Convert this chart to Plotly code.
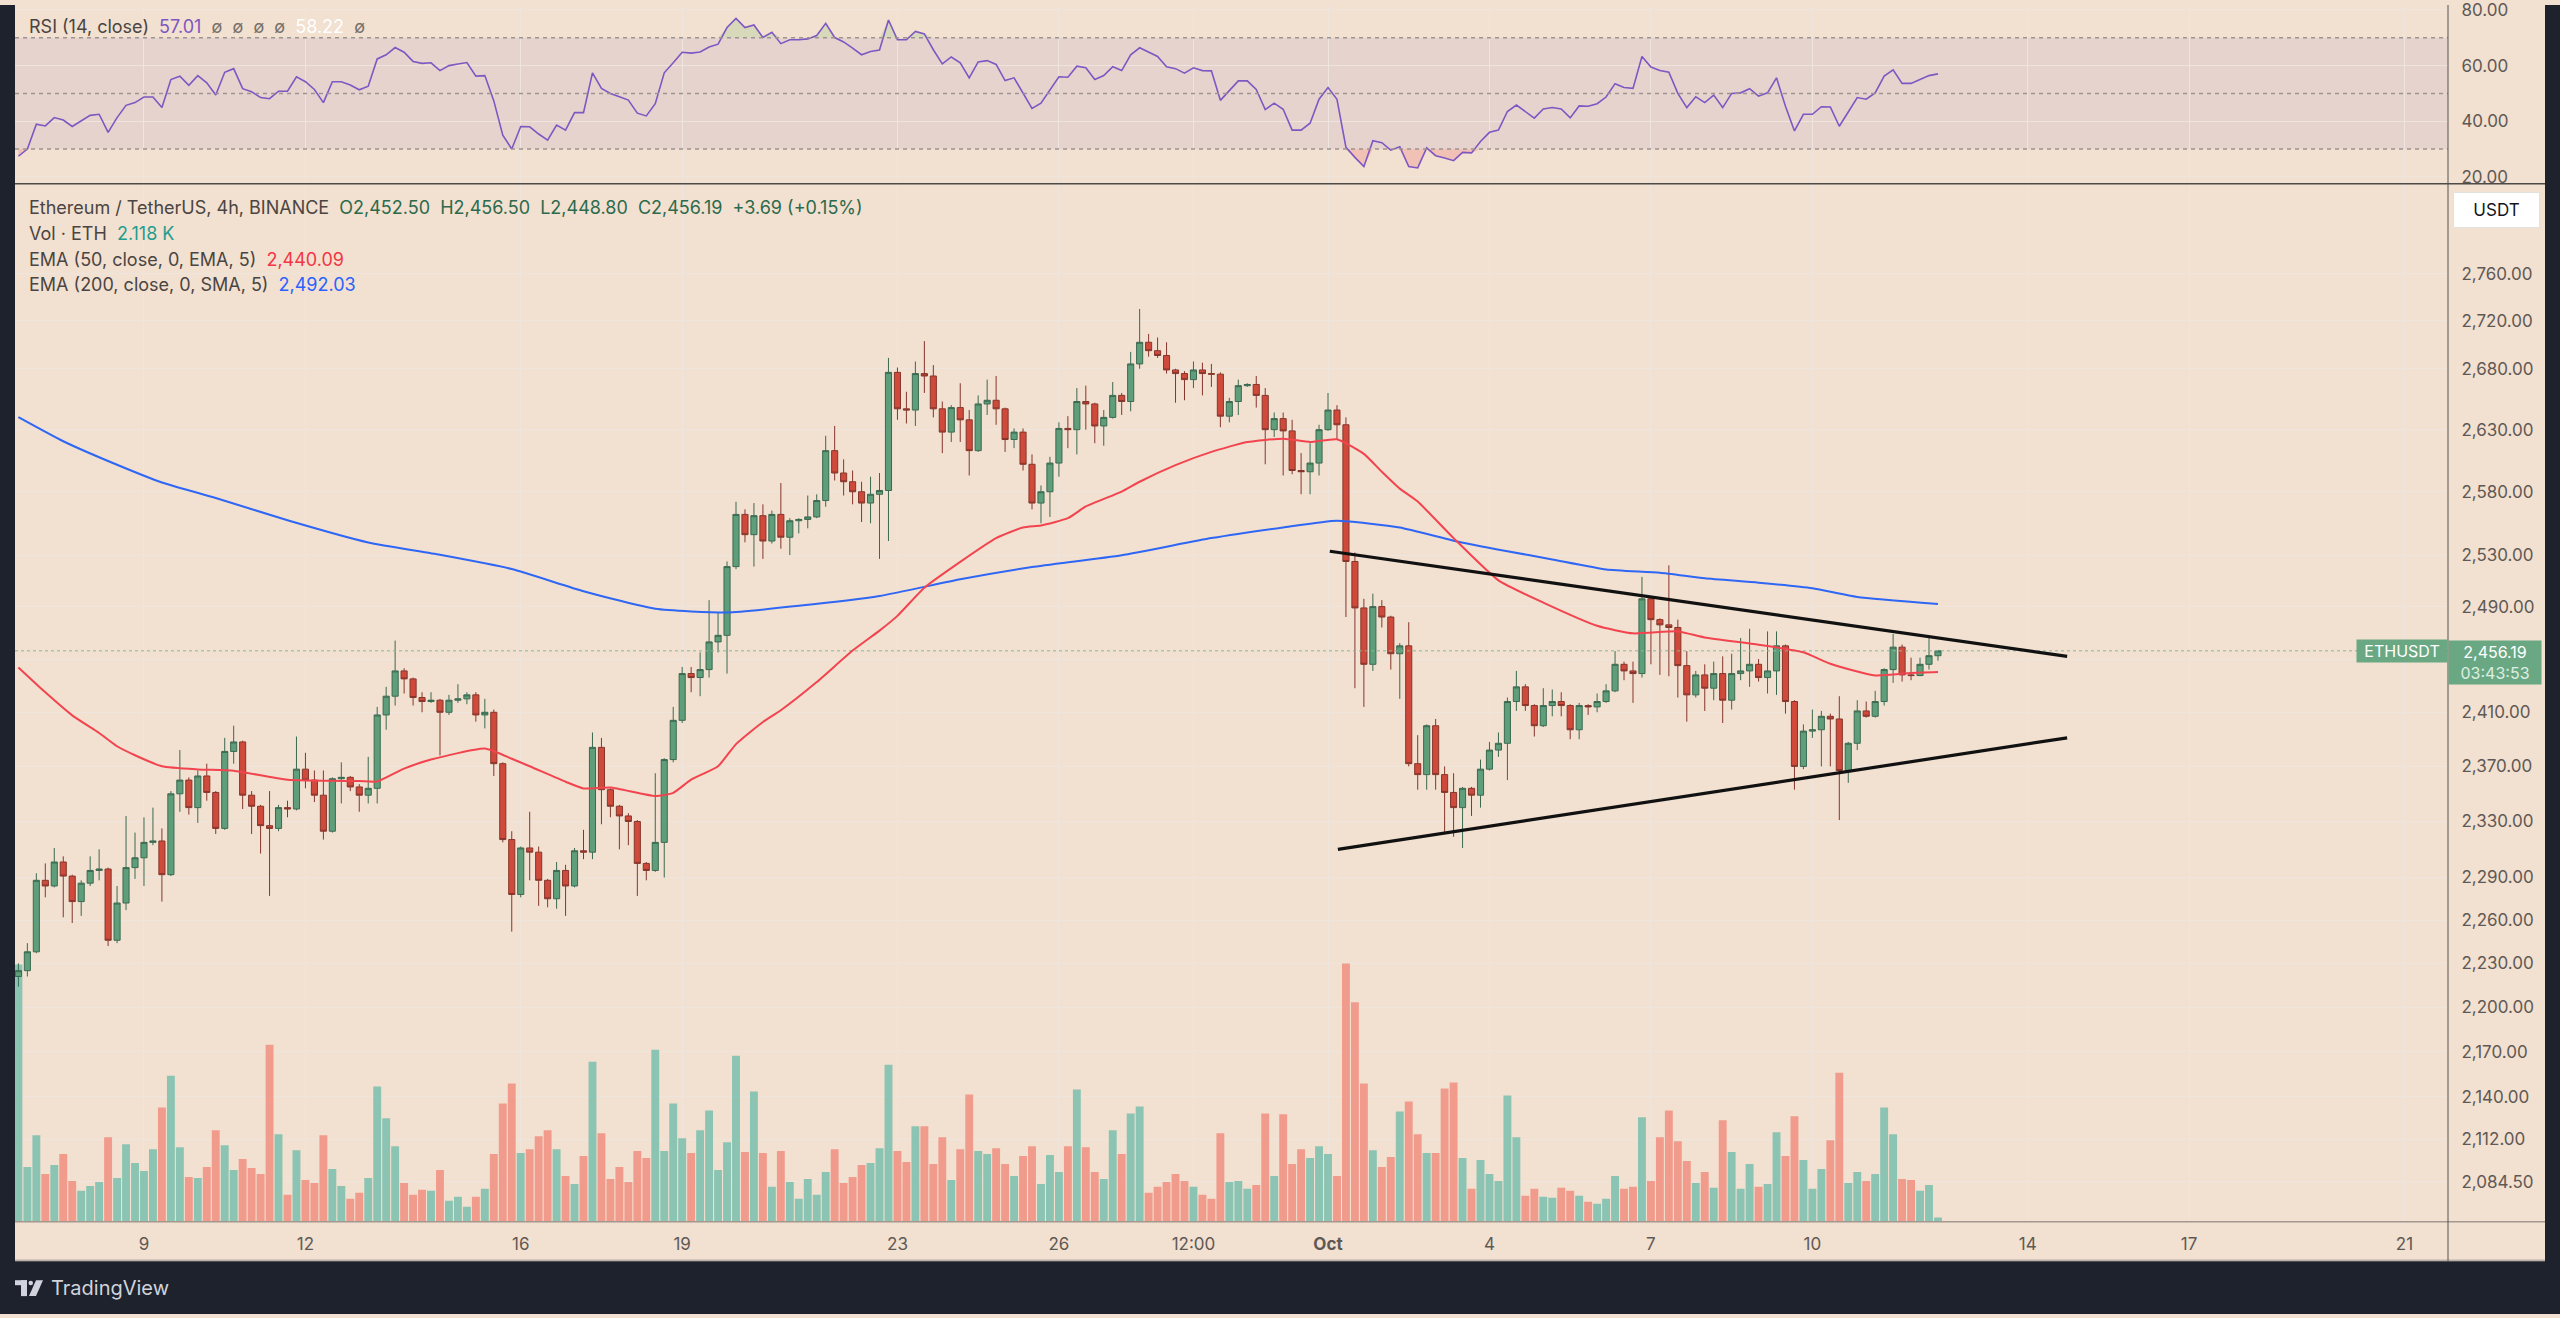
import numpy as np
import pandas as pd
import plotly.graph_objects as go

# ---------------------------------------------------------------- data
START = "2024-09-06 16:00"          # first 4h candle
open_ = [
    2221, 2225, 2238, 2288, 2284, 2301, 2291, 2273, 2286, 2295,
    2296, 2246, 2272, 2297, 2304, 2315, 2316, 2292, 2350, 2360,
    2340, 2363, 2351, 2325, 2381, 2388, 2349, 2341, 2327, 2325,
    2340, 2339, 2368, 2360, 2349, 2323, 2361, 2362, 2355, 2349,
    2354, 2408, 2422, 2441, 2435, 2421, 2418, 2419, 2410, 2419,
    2420, 2423, 2408, 2410, 2372, 2317, 2278, 2311, 2308, 2288,
    2275, 2295, 2284, 2309, 2308, 2384, 2353, 2341, 2334, 2330,
    2300, 2295, 2315, 2375, 2404, 2439, 2436, 2442, 2463, 2468,
    2521, 2562, 2546, 2561, 2541, 2562, 2544, 2557, 2558, 2560,
    2573, 2613, 2595, 2588, 2580, 2571, 2578, 2581, 2677, 2647,
    2646, 2676, 2674, 2647, 2628, 2648, 2638, 2613, 2651, 2654,
    2647, 2622, 2628, 2602, 2571, 2580, 2603, 2631, 2630, 2653,
    2651, 2633, 2640, 2658, 2653, 2684, 2702, 2695, 2691, 2679,
    2676, 2671, 2679, 2676, 2675.5, 2641, 2653, 2666, 2667, 2658,
    2630, 2639, 2629, 2597, 2596, 2603, 2630, 2646, 2634, 2525,
    2489, 2446, 2490, 2482, 2454, 2460, 2372, 2364, 2400, 2364,
    2351, 2340, 2354, 2349, 2368, 2382, 2387, 2418, 2429, 2415,
    2400, 2415, 2418, 2415, 2397, 2415, 2414, 2418, 2426, 2446,
    2441, 2439, 2496, 2480, 2476, 2474, 2445, 2423, 2438, 2428,
    2439, 2419, 2439, 2441, 2446, 2436, 2441, 2460, 2418, 2370,
    2396, 2397, 2407, 2405, 2367, 2387, 2411, 2407, 2418, 2442,
    2459, 2438, 2437.5, 2446, 2452.5,
]
high = [
    2230, 2244, 2293, 2300, 2311, 2305, 2292, 2288, 2305, 2310,
    2297, 2284, 2334, 2322, 2333, 2340, 2325, 2352, 2382, 2362,
    2367, 2372, 2352, 2391, 2400, 2389, 2352, 2342, 2352, 2342,
    2345, 2392, 2380, 2367, 2367, 2362, 2373, 2363, 2357, 2377,
    2414, 2429, 2464, 2443, 2436, 2425, 2425, 2420, 2423, 2431,
    2425, 2425, 2420, 2412, 2373, 2323, 2312, 2337, 2312, 2289,
    2301, 2299, 2311, 2324, 2395, 2391, 2354, 2342, 2336, 2331,
    2301, 2365, 2376, 2414, 2444, 2444, 2455, 2495, 2485, 2525,
    2572, 2566, 2571, 2570, 2565, 2587, 2559, 2559, 2577, 2578,
    2625, 2633, 2606, 2597, 2588, 2592, 2595, 2689, 2681, 2661,
    2686, 2703, 2683, 2653, 2650, 2668, 2646, 2658, 2671, 2674,
    2648, 2631, 2631, 2610, 2585, 2608, 2636, 2641, 2664, 2666,
    2652, 2646, 2669, 2660, 2694, 2730, 2709, 2706, 2702, 2680,
    2678, 2686, 2685, 2684, 2677, 2656, 2671, 2668, 2674, 2664,
    2644, 2644, 2638, 2611, 2619, 2634, 2660, 2650, 2640, 2532,
    2496, 2500, 2495, 2483, 2462, 2478, 2393, 2401, 2405, 2370,
    2365, 2355, 2355, 2375, 2388, 2395, 2421, 2441, 2431, 2416,
    2428, 2427, 2425, 2416, 2417, 2416, 2424, 2431, 2456, 2448,
    2448, 2513, 2498, 2481, 2522, 2480, 2456, 2441, 2446, 2448,
    2452, 2454, 2466, 2473, 2450, 2471, 2471, 2461, 2419, 2401,
    2412, 2411, 2409, 2422, 2388, 2419, 2418, 2426, 2443, 2469,
    2461, 2451, 2451, 2467, 2456.5,
]
low = [
    2214, 2221, 2237, 2276, 2283, 2262, 2258, 2263, 2284, 2288,
    2242, 2244, 2267, 2289, 2284, 2313, 2273, 2291, 2337, 2335,
    2329, 2345, 2321, 2324, 2372, 2339, 2321, 2307, 2277, 2323,
    2333, 2338, 2354, 2344, 2317, 2322, 2343, 2352, 2337, 2343,
    2343, 2397, 2415, 2424, 2415, 2410, 2417, 2378, 2408, 2417,
    2416, 2403, 2398, 2363, 2315, 2252, 2276, 2288, 2270, 2269,
    2268, 2263, 2283, 2303, 2303, 2328, 2333, 2310, 2313, 2277,
    2288, 2294, 2290, 2373, 2402, 2425, 2422, 2436, 2455, 2439,
    2519, 2540, 2521, 2527, 2539, 2535, 2530, 2547, 2551, 2559,
    2568, 2589, 2577, 2570, 2556, 2555, 2527, 2541, 2638, 2635,
    2633, 2660, 2640, 2611, 2620, 2620, 2593, 2612, 2642, 2634,
    2612, 2615, 2597, 2566, 2555, 2560, 2592, 2615, 2610, 2630,
    2619, 2617, 2639, 2642, 2645, 2680, 2690, 2689, 2676, 2652,
    2654, 2664, 2658, 2665, 2632, 2636, 2642, 2665, 2648, 2602,
    2624, 2593, 2594, 2578, 2578, 2593, 2629, 2622, 2482, 2428,
    2414, 2441, 2474, 2442, 2420, 2370, 2353, 2353, 2353, 2321,
    2319, 2311, 2334, 2340, 2367, 2377, 2360, 2411, 2411, 2392,
    2399, 2407, 2407, 2390, 2390, 2408, 2410, 2417, 2425, 2434,
    2417, 2436, 2446, 2438, 2437, 2421, 2403, 2421, 2411, 2419,
    2402, 2412, 2434, 2429, 2433, 2424, 2423, 2409, 2353, 2368,
    2391, 2370, 2370, 2331, 2358, 2382, 2406, 2406, 2415, 2432,
    2433, 2434, 2437, 2442, 2448.8,
]
close = [
    2225, 2238, 2288, 2284, 2301, 2291, 2273, 2286, 2295, 2296,
    2246, 2272, 2297, 2304, 2315, 2316, 2292, 2350, 2360, 2340,
    2363, 2351, 2325, 2381, 2388, 2349, 2341, 2327, 2325, 2340,
    2339, 2368, 2360, 2349, 2323, 2361, 2362, 2355, 2349, 2354,
    2408, 2422, 2441, 2435, 2421, 2418, 2419, 2410, 2419, 2420,
    2423, 2408, 2410, 2372, 2317, 2278, 2311, 2308, 2288, 2275,
    2295, 2284, 2309, 2308, 2384, 2353, 2341, 2334, 2330, 2300,
    2295, 2315, 2375, 2404, 2439, 2436, 2442, 2463, 2468, 2521,
    2562, 2546, 2561, 2541, 2562, 2544, 2557, 2558, 2560, 2573,
    2613, 2595, 2588, 2580, 2571, 2578, 2581, 2677, 2647, 2646,
    2676, 2674, 2647, 2628, 2648, 2638, 2613, 2651, 2654, 2647,
    2622, 2628, 2602, 2571, 2580, 2603, 2631, 2630, 2653, 2651,
    2633, 2640, 2658, 2653, 2684, 2702, 2695, 2691, 2679, 2676,
    2671, 2679, 2676, 2675.5, 2641, 2653, 2666, 2667, 2658, 2630,
    2639, 2629, 2597, 2596, 2603, 2630, 2646, 2634, 2525, 2489,
    2446, 2490, 2482, 2454, 2460, 2372, 2364, 2400, 2364, 2351,
    2340, 2354, 2349, 2368, 2382, 2387, 2418, 2429, 2415, 2400,
    2415, 2418, 2415, 2397, 2415, 2414, 2418, 2426, 2446, 2441,
    2439, 2496, 2480, 2476, 2474, 2445, 2423, 2438, 2428, 2439,
    2419, 2439, 2441, 2446, 2436, 2441, 2460, 2418, 2370, 2396,
    2397, 2407, 2405, 2367, 2387, 2411, 2407, 2418, 2442, 2459,
    2438, 2437.5, 2446, 2452.5, 2456.19,
]
volume_k = [
    129.5, 27.5, 43.5, 24, 28.5, 34, 20.5, 15.5, 18, 20,
    42.5, 22, 39, 29.5, 25.5, 36.5, 57.5, 73.5, 37.5, 22.5,
    22, 27.5, 46, 38.5, 26, 31.5, 27, 24, 89, 44,
    13.5, 36, 21, 19.5, 43.5, 26.5, 18, 11.5, 14.5, 22,
    68, 52, 38, 19.5, 13.5, 16, 15.5, 26, 10.5, 12.5,
    7.5, 12.5, 16.5, 34, 59.5, 69.5, 34.5, 36.5, 43, 46,
    36.5, 23, 19, 33, 80.5, 44.5, 21.5, 27.5, 20, 35.5,
    32, 86.5, 35.5, 59.5, 42, 34.5, 46, 56, 26, 40,
    83.5, 35, 65.5, 34.5, 17.5, 35.5, 20, 11.5, 21.5, 13.5,
    25, 36.5, 19.5, 22.5, 28.5, 29.5, 37, 79, 35.5, 30,
    48, 48, 29, 42.5, 21, 36.5, 64, 35.5, 34, 37,
    29, 23, 33, 38, 19, 33.5, 25, 38, 66.5, 37.5,
    25, 21.5, 46, 34, 54.5, 58, 14.5, 17.5, 20, 24,
    20.5, 17.5, 13.5, 11.5, 44.5, 20, 20.5, 16.5, 18.5, 54.5,
    23, 54, 29, 36.5, 32, 38, 34, 23, 130, 110.5,
    69.5, 36, 27.5, 32.5, 55.5, 60.5, 44, 34.5, 34.5, 67,
    70, 32, 16.5, 31, 24, 20.5, 63.5, 42.5, 13, 16.5,
    12.5, 12, 17, 15.5, 13, 10, 9, 11.5, 23, 16.5,
    17.5, 52.5, 20.5, 42.5, 56, 40.5, 30.5, 19.5, 25, 17,
    51, 35, 16.5, 29, 17.5, 19, 45, 33, 53, 31,
    16.5, 26.5, 41, 75, 19.5, 25, 20.5, 24, 57.5, 44,
    21.5, 21, 15.5, 18.5, 2.118,
]
rsi = [
    27.4, 30.0, 38.9, 38.3, 41.3, 40.4, 38.1, 40.1, 42.1, 42.5,
    36.0, 41.3, 45.7, 46.7, 48.7, 48.7, 44.9, 55.0, 56.2, 52.9,
    56.4, 53.8, 49.4, 57.6, 58.9, 51.7, 50.6, 48.5, 48.1, 50.8,
    50.8, 56.0, 54.2, 51.4, 46.7, 54.2, 54.2, 53.0, 51.3, 52.6,
    62.4, 63.9, 66.5, 64.8, 61.5, 60.8, 61.0, 58.2, 60.0, 60.6,
    61.1, 56.2, 56.4, 47.3, 35.0, 30.0, 38.1, 38.0, 35.4, 33.2,
    38.6, 36.8, 43.1, 43.1, 57.4, 51.8, 50.0, 48.8, 47.6, 42.9,
    41.9, 46.3, 57.4, 61.0, 64.8, 64.5, 64.9, 66.7, 67.7, 73.7,
    77.0, 73.7, 74.6, 70.1, 72.0, 67.9, 69.3, 69.3, 69.6, 70.8,
    75.2, 70.1, 68.5, 66.3, 63.9, 65.1, 65.6, 76.4, 69.3, 69.3,
    72.3, 71.4, 65.7, 60.6, 63.1, 61.0, 55.6, 61.3, 61.8, 60.4,
    54.6, 55.6, 50.2, 44.6, 46.5, 51.4, 56.0, 55.8, 59.8, 59.2,
    55.0, 56.4, 59.6, 58.2, 63.9, 66.4, 64.8, 63.3, 59.6, 58.9,
    57.3, 59.2, 58.2, 58.1, 47.5, 51.1, 54.5, 54.5, 51.4, 44.2,
    46.5, 44.3, 36.8, 36.8, 39.3, 47.9, 52.1, 47.9, 30.6, 27.0,
    23.7, 33.0, 32.3, 29.6, 30.8, 23.7, 23.2, 30.4, 27.6, 26.8,
    25.8, 28.8, 28.6, 32.7, 36.0, 36.8, 43.5, 45.8, 43.5, 41.1,
    44.4, 44.9, 44.4, 41.2, 45.5, 45.4, 46.3, 48.7, 53.5, 52.1,
    51.8, 63.3, 59.5, 58.2, 57.6, 50.0, 44.9, 48.8, 46.7, 49.4,
    44.9, 50.0, 50.2, 51.7, 49.0, 50.2, 55.6, 45.4, 36.5, 42.5,
    42.5, 45.2, 45.1, 38.2, 43.3, 48.5, 47.9, 50.2, 56.2, 58.5,
    53.6, 53.6, 55.0, 56.4, 57.01,
]
# EMA lines, read at selected candle indices
ema50_idx = [0, 3, 6, 9, 11, 13, 16, 20, 24, 30, 38, 40, 43, 46, 52, 55, 57, 61, 63, 66,
             71, 73, 75, 78, 80, 83, 85, 89, 93, 96, 98, 101, 105, 109, 112, 114, 117, 119,
             123, 125, 129, 133, 137, 141, 144, 147, 150, 152, 154, 156, 160, 165, 170, 176,
             180, 185, 188, 194, 199, 202, 207, 211, 214]
ema50_val = [2443.6, 2424.9, 2407.7, 2394.6, 2384.8, 2378.2, 2370.1, 2367.8, 2366.8, 2360.3,
             2359.3, 2359.0, 2368.4, 2375.0, 2383.1, 2375.6, 2370.1, 2358.8, 2353.9, 2354.6,
             2348.4, 2350.7, 2360.3, 2370.1, 2386.4, 2402.8, 2411.5, 2432.6, 2456.4, 2471.6,
             2482.9, 2504.6, 2524.7, 2543.3, 2551.7, 2553.3, 2559.0, 2568.3, 2580.1, 2588.0,
             2601.3, 2612.0, 2620.0, 2622.7, 2620.0, 2622.2, 2610.4, 2596.0, 2582.5, 2572.2,
             2543.3, 2510.3, 2493.1, 2475.3, 2469.5, 2471.0, 2466.4, 2460.9, 2455.1, 2446.4,
             2437.6, 2439.4, 2440.09]
ema200_idx = [0, 5, 11, 16, 22, 30, 39, 47, 55, 63, 71, 79, 87, 96, 105, 113, 123, 133, 141,
              147, 154, 160, 166, 171, 177, 183, 188, 194, 200, 205, 214]
ema200_val = [2640.2, 2620.6, 2601.6, 2587.4, 2575.0, 2557.4, 2539.9, 2530.2, 2519.1, 2501.9,
              2488.3, 2485.5, 2490.6, 2498.2, 2511.1, 2520.6, 2529.9, 2543.3, 2551.7, 2557.0,
              2551.7, 2541.3, 2533.0, 2526.6, 2518.8, 2516.2, 2511.9, 2508.5, 2504.2, 2497.5,
              2492.03]
# triangle trend lines (candle index, price)
trend_upper_idx = [146.2, 228.4]
trend_upper_val = [2533, 2452]
trend_lower_idx = [147.1, 228.4]
trend_lower_val = [2310, 2391]

price_ticks = [2084.5, 2112, 2140, 2170, 2200, 2230, 2260, 2290, 2330, 2370, 2410, 2450,
               2490, 2530, 2580, 2630, 2680, 2720, 2760]
hidden_price_ticks = [2450]          # label covered by the last-price tag
rsi_ticks = [20, 40, 60, 80]
date_tick_times = ["2024-09-09", "2024-09-12", "2024-09-16", "2024-09-19", "2024-09-23",
                   "2024-09-26", "2024-09-28 12:00", "2024-10-01", "2024-10-04", "2024-10-07",
                   "2024-10-10", "2024-10-14", "2024-10-17", "2024-10-21"]
date_tick_labels = ["9", "12", "16", "19", "23", "26", "12:00", "Oct", "4", "7", "10", "14",
                    "17", "21"]

n = len(close)
assert len(open_) == n and len(high) == n and len(low) == n
assert len(volume_k) == n and len(rsi) == n
assert len(ema50_idx) == len(ema50_val) and len(ema200_idx) == len(ema200_val)

# ---------------------------------------------------------------- layout constants
W, H = 2560, 1318
BG = "#f2e0d0"
GRID = "#eee5df"
DARK = "#1e222d"
TXT = "#4a4542"
AXT = "#5f5955"
FONT = "Inter, Roboto, sans-serif"
PL, PR = 15, 2448          # plot area left / right (px)
RSI_BOTTOM = 179
PRICE_TOP, PRICE_BOTTOM = 180, 1225
FOOT_TOP = 1265


def px(x):
    return x / W


def py(y):
    return 1 - y / H


t_start = pd.Timestamp(START)
times = pd.date_range(START, periods=n, freq="4h")


def idx_time(i):
    return t_start + pd.Timedelta(hours=4 * i)


x_left = idx_time(-0.379)
x_right = idx_time(270.86)

o = np.array(open_, float)
c = np.array(close, float)
up = c >= o
vol_colors = np.where(up, "#8cc4b3", "#f19b8d")

fig = go.Figure()

# volume (behind)
fig.add_trace(go.Bar(x=times, y=volume_k, marker=dict(color=vol_colors, line=dict(width=0)),
                     xaxis="x", yaxis="y", hoverinfo="skip", showlegend=False))

# last-price dotted line
fig.add_trace(go.Scatter(x=[x_left, x_right], y=[close[-1], close[-1]], mode="lines",
                         line=dict(color="#86b899", width=1, dash="dot"),
                         xaxis="x", yaxis="y2", hoverinfo="skip", showlegend=False))

# candles
fig.add_trace(go.Candlestick(
    x=times, open=open_, high=high, low=low, close=close, xaxis="x", yaxis="y2",
    increasing=dict(fillcolor="#5f9e7b", line=dict(color="#3b6a51", width=1)),
    decreasing=dict(fillcolor="#d04a3b", line=dict(color="#86362c", width=1)),
    whiskerwidth=0, hoverinfo="skip", showlegend=False))

# EMAs
fig.add_trace(go.Scatter(x=[idx_time(i) for i in ema200_idx], y=ema200_val, mode="lines",
                         line=dict(color="#2e66f5", width=2, shape="spline", smoothing=0.5),
                         xaxis="x", yaxis="y2", hoverinfo="skip", showlegend=False))
fig.add_trace(go.Scatter(x=[idx_time(i) for i in ema50_idx], y=ema50_val, mode="lines",
                         line=dict(color="#f2444f", width=2, shape="spline", smoothing=0.5),
                         xaxis="x", yaxis="y2", hoverinfo="skip", showlegend=False))

# trend lines
for ti, tv in ((trend_upper_idx, trend_upper_val), (trend_lower_idx, trend_lower_val)):
    fig.add_trace(go.Scatter(x=[idx_time(i) for i in ti], y=tv, mode="lines",
                             line=dict(color="#111111", width=3.2),
                             xaxis="x", yaxis="y2", hoverinfo="skip", showlegend=False))

# RSI fills (overbought / oversold) and line
r = np.array(rsi, float)
fig.add_trace(go.Scatter(x=times, y=[70] * n, mode="lines", line=dict(width=0),
                         xaxis="x", yaxis="y3", hoverinfo="skip", showlegend=False))
fig.add_trace(go.Scatter(x=times, y=np.maximum(r, 70), mode="lines", line=dict(width=0),
                         fill="tonexty", fillcolor="rgba(120,190,110,0.22)",
                         xaxis="x", yaxis="y3", hoverinfo="skip", showlegend=False))
fig.add_trace(go.Scatter(x=times, y=[30] * n, mode="lines", line=dict(width=0),
                         xaxis="x", yaxis="y3", hoverinfo="skip", showlegend=False))
fig.add_trace(go.Scatter(x=times, y=np.minimum(r, 30), mode="lines", line=dict(width=0),
                         fill="tonexty", fillcolor="rgba(242,80,90,0.22)",
                         xaxis="x", yaxis="y3", hoverinfo="skip", showlegend=False))
fig.add_trace(go.Scatter(x=times, y=rsi, mode="lines", line=dict(color="#7e57c2", width=1.6),
                         xaxis="x", yaxis="y3", hoverinfo="skip", showlegend=False))

axis_font = dict(family=FONT, size=17, color=AXT)

fig.update_layout(
    width=W, height=H, autosize=False,
    margin=dict(l=0, r=0, t=0, b=0, pad=0),
    paper_bgcolor=BG, plot_bgcolor=BG,
    showlegend=False, bargap=0.12, boxgap=0.2, boxgroupgap=0.15,
    hovermode=False,
    xaxis=dict(type="date", domain=[px(PL), px(PR)], range=[x_left, x_right], anchor="y",
               tickvals=date_tick_times,
               ticktext=[("<b>%s</b>" % t if t == "Oct" else t) for t in date_tick_labels],
               tickfont=axis_font, showgrid=True, gridcolor=GRID, gridwidth=1,
               ticks="outside", ticklen=7, tickcolor="rgba(0,0,0,0)",
               zeroline=False, showline=False, rangeslider=dict(visible=False),
               fixedrange=True),
    yaxis=dict(domain=[py(PRICE_BOTTOM), py(PRICE_TOP)], range=[0, 522.5], visible=False,
               fixedrange=True),
    yaxis2=dict(type="log", overlaying="y", side="right", anchor="x",
                range=[np.log10(2058.9), np.log10(2837.7)],
                tickvals=price_ticks,
                ticktext=[("" if v in hidden_price_ticks else f"{v:,.2f}") for v in price_ticks],
                tickfont=axis_font, showgrid=True, gridcolor=GRID, gridwidth=1,
                ticks="outside", ticklen=9, tickcolor="rgba(0,0,0,0)",
                zeroline=False, showline=False, fixedrange=True),
    yaxis3=dict(domain=[py(RSI_BOTTOM), 1], range=[17.86, 81.79], side="right", anchor="x",
                tickvals=rsi_ticks, ticktext=[f"{v:.2f}" for v in rsi_ticks],
                tickfont=axis_font, showgrid=True, gridcolor=GRID, gridwidth=1,
                ticks="outside", ticklen=9, tickcolor="rgba(0,0,0,0)",
                ticklabeloverflow="allow",
                zeroline=False, showline=False, fixedrange=True),
)

shapes = []
# RSI band and levels
shapes.append(dict(type="rect", xref="x domain", yref="y3", x0=0, x1=1, y0=30, y1=70,
                   fillcolor="rgba(126,87,194,0.09)", line=dict(width=0), layer="below"))
for lvl in (70, 50, 30):
    shapes.append(dict(type="line", xref="x domain", yref="y3", x0=0, x1=1, y0=lvl, y1=lvl,
                       line=dict(color="#9c9490", width=1.5, dash="4px,4px"), layer="above"))
# frame
shapes += [
    dict(type="rect", xref="paper", yref="paper", x0=0, x1=px(PL), y0=0, y1=1,
         fillcolor=DARK, line=dict(width=0), layer="above"),
    dict(type="rect", xref="paper", yref="paper", x0=px(2545), x1=1, y0=0, y1=1,
         fillcolor=DARK, line=dict(width=0), layer="above"),
    dict(type="rect", xref="paper", yref="paper", x0=0, x1=1, y0=0, y1=py(FOOT_TOP),
         fillcolor=DARK, line=dict(width=0), layer="above"),
    # pane separator
    dict(type="line", xref="paper", yref="paper", x0=px(PL), x1=px(2545),
         y0=py(180), y1=py(180), line=dict(color="#4e4a48", width=1.5), layer="above"),
    # price pane bottom
    dict(type="line", xref="paper", yref="paper", x0=px(PL), x1=px(2545),
         y0=py(1225), y1=py(1225), line=dict(color="#a39890", width=1.5), layer="above"),
    dict(type="line", xref="paper", yref="paper", x0=px(PL), x1=px(2545),
         y0=py(FOOT_TOP - 1), y1=py(FOOT_TOP - 1), line=dict(color="#b9b0aa", width=1.5),
         layer="above"),
    # price axis separator
    dict(type="line", xref="paper", yref="paper", x0=px(PR), x1=px(PR),
         y0=py(FOOT_TOP), y1=1, line=dict(color="#57524f", width=1), layer="above"),
]
# TradingView logo glyph
LOGO = "#d1d4dc"
shapes += [
    dict(type="rect", xref="paper", yref="paper", x0=px(15), x1=px(27), y0=py(1289),
         y1=py(1284), fillcolor=LOGO, line=dict(width=0), layer="above"),
    dict(type="rect", xref="paper", yref="paper", x0=px(21), x1=px(27), y0=py(1300),
         y1=py(1284), fillcolor=LOGO, line=dict(width=0), layer="above"),
    dict(type="circle", xref="paper", yref="paper", x0=px(28.5), x1=px(33), y0=py(1289),
         y1=py(1284.5), fillcolor=LOGO, line=dict(width=0), layer="above"),
    dict(type="path", xref="paper", yref="paper",
         path=f"M {px(36)},{py(1284)} L {px(43)},{py(1284)} L {px(36)},{py(1300)} "
              f"L {px(29)},{py(1300)} Z",
         fillcolor=LOGO, line=dict(width=0), layer="above"),
]
fig.update_layout(shapes=shapes)

# ---------------------------------------------------------------- texts
ann = []
lf = dict(family=FONT, size=18, color=TXT)
sp = "&nbsp;&nbsp;"
grey_o = '<span style="color:#77706b">ø</span>'
ann.append(dict(xref="paper", yref="paper", x=px(27), y=py(22), xanchor="left",
                yanchor="middle", showarrow=False, font=lf,
                text=("RSI (14, close)" + sp + f'<span style="color:#7e57c2">{rsi[-1]:.2f}</span>'
                      + sp + (sp.join([grey_o] * 4)) + sp
                      + '<span style="color:#ffffff">58.22</span>' + sp + grey_o)))
ohlc_txt = (f"O{open_[-1]:,.2f}{sp}H{high[-1]:,.2f}{sp}L{low[-1]:,.2f}{sp}C{close[-1]:,.2f}"
            f"{sp}{close[-1] - close[-2]:+.2f} ({(close[-1] - close[-2]) / close[-2] * 100:+.2f}%)")
ann.append(dict(xref="paper", yref="paper", x=px(27), y=py(204), xanchor="left",
                yanchor="middle", showarrow=False, font=lf,
                text="Ethereum / TetherUS, 4h, BINANCE" + sp +
                     f'<span style="color:#2c6a4d">{ohlc_txt}</span>'))
ann.append(dict(xref="paper", yref="paper", x=px(27), y=py(230), xanchor="left",
                yanchor="middle", showarrow=False, font=lf,
                text="Vol · ETH" + sp + f'<span style="color:#1f9e8f">{volume_k[-1]:.3f} K</span>'))
ann.append(dict(xref="paper", yref="paper", x=px(27), y=py(256), xanchor="left",
                yanchor="middle", showarrow=False, font=lf,
                text="EMA (50, close, 0, EMA, 5)" + sp +
                     f'<span style="color:#f23645">{ema50_val[-1]:,.2f}</span>'))
ann.append(dict(xref="paper", yref="paper", x=px(27), y=py(281), xanchor="left",
                yanchor="middle", showarrow=False, font=lf,
                text="EMA (200, close, 0, SMA, 5)" + sp +
                     f'<span style="color:#2962ff">{ema200_val[-1]:,.2f}</span>'))
# USDT button
ann.append(dict(xref="paper", yref="paper", x=px(2496.5), y=py(206), xanchor="center",
                yanchor="middle", showarrow=False, text="USDT",
                font=dict(family=FONT, size=17, color="#131722"),
                bgcolor="#ffffff", bordercolor="#e4e0dc", borderwidth=1, borderpad=0,
                width=85, height=34))
# last price labels
GREEN_LBL = "#6aa884"
ylog = np.log10(close[-1])
ann.append(dict(xref="paper", yref="y2", x=px(PR), y=ylog, xanchor="right", yanchor="middle",
                showarrow=False, text="ETHUSDT", font=dict(family=FONT, size=16, color="#ffffff"),
                bgcolor=GREEN_LBL, borderpad=0, width=90, height=22))
ann.append(dict(xref="paper", yref="y2", x=px(PR), y=ylog, xanchor="left", yanchor="top",
                yshift=11, showarrow=False,
                text=f"{close[-1]:,.2f}<br><span style=\"color:#dcefe3\">03:43:53</span>",
                font=dict(family=FONT, size=16, color="#ffffff"),
                bgcolor=GREEN_LBL, borderpad=1, width=90, height=41))
# footer
ann.append(dict(xref="paper", yref="paper", x=px(49), y=py(1292), xanchor="left",
                yanchor="middle", showarrow=False, text="TradingView",
                font=dict(family=FONT, size=20, color=LOGO)))
fig.update_layout(annotations=ann)

fig.write_html("out.html", include_plotlyjs=True, full_html=True,
               config={"displayModeBar": False, "staticPlot": True},
               post_script="document.body.style.margin='0';document.body.style.overflow='hidden';")
